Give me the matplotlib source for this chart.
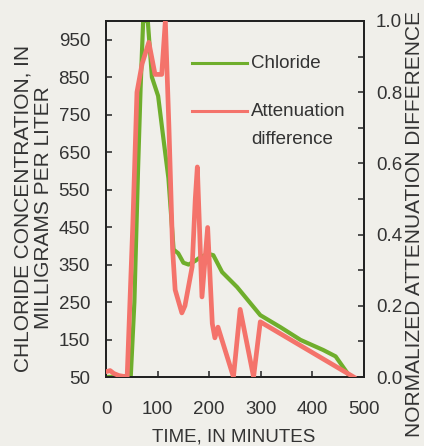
import numpy as np
import matplotlib.pyplot as plt
from matplotlib.ticker import MultipleLocator

plt.rcParams['font.family'] = ['Liberation Sans', 'DejaVu Sans']

# cloreto (mg/L) ao longo do tempo (min)
tempo_cloreto = [0, 48, 55, 62, 67, 72, 81, 89, 101, 110, 121, 131, 140, 150,
                 160, 173, 185, 200, 208, 225, 254, 299, 338, 377, 421, 445, 468, 473]
cloreto = [50, 52, 250, 600, 820, 1000, 1000, 850, 800, 700, 580, 390, 380, 355,
           350, 360, 372, 378, 375, 330, 290, 215, 183, 149, 122, 105, 60, 50]

# diferença de atenuação normalizada
tempo_atenuacao = [0, 8, 15, 25, 41, 52, 60, 70, 83, 95, 108, 115, 122, 129, 134,
                   147, 153, 167, 173, 177, 186, 197, 206, 211, 217, 247, 260,
                   286, 299, 480]
atenuacao = [0.015, 0.018, 0.01, 0.004, 0.0, 0.43, 0.80, 0.88, 0.94, 0.85, 0.85,
             1.0, 0.70, 0.36, 0.245, 0.18, 0.20, 0.31, 0.50, 0.59, 0.225, 0.42,
             0.15, 0.11, 0.14, 0.0, 0.19, 0.0, 0.155, 0.0]

verde = '#6fae2c'
vermelho = '#f4736b'
fundo = '#f0efea'
texto = '#333333'
fs = 13.5

fig = plt.figure(figsize=(4.24, 4.46), dpi=100, facecolor=fundo)
ax = fig.add_axes([106 / 424, 69 / 446, 258 / 424, 356 / 446])
ax.set_facecolor(fundo)
ax2 = ax.twinx()

ax.plot(tempo_cloreto, cloreto, color=verde, lw=3.0, solid_joinstyle='round', zorder=2)
ax2.plot(tempo_atenuacao, atenuacao, color=vermelho, lw=3.4, solid_joinstyle='round', zorder=3)

ax.set_xlim(0, 500)
ax.set_ylim(50, 1000)
ax2.set_ylim(0, 1.0)

ax.set_xticks(range(0, 501, 100))
ax.set_yticks(range(50, 951, 100))
ax2.yaxis.set_major_locator(MultipleLocator(0.2))
ax2.yaxis.set_minor_locator(MultipleLocator(0.1))
ax2.set_yticklabels([f'{v:.1f}' for v in ax2.get_yticks()])

ax.tick_params(axis='x', direction='in', length=4.5, width=1.2, pad=17.5,
               labelsize=fs, colors=texto)
ax.tick_params(axis='y', direction='in', length=4.5, width=1.2, pad=11.5,
               labelsize=fs, colors=texto)
ax2.tick_params(axis='y', which='both', direction='in', length=4.5, width=1.2,
                pad=8.6, labelsize=fs, colors=texto)
for a in (ax, ax2):
    for s in a.spines.values():
        s.set_linewidth(1.3)
        s.set_color('#222222')

# legenda desenhada à mão, como na figura original
ax.plot([0.333, 0.547], [0.882, 0.882], color=verde, lw=2.2, transform=ax.transAxes)
ax.plot([0.333, 0.547], [0.747, 0.747], color=vermelho, lw=2.2, transform=ax.transAxes)
ax.text(0.562, 0.882, 'Chloride', transform=ax.transAxes, fontsize=fs,
        color=texto, va='center', ha='left')
ax.text(0.562, 0.747, 'Attenuation', transform=ax.transAxes,
        fontsize=fs, color=texto, va='center', ha='left')
ax.text(0.562, 0.666, 'difference', transform=ax.transAxes,
        fontsize=fs, color=texto, va='center', ha='left')

fig.text(234 / 424, 1 - 437 / 446, 'TIME, IN MINUTES', fontsize=fs, color=texto,
         ha='center', va='center')
fig.text(33 / 424, 1 - 208 / 446, 'CHLORIDE CONCENTRATION, IN\nMILLIGRAMS PER LITER',
         fontsize=15, color=texto, rotation=90, ha='center', va='center',
         multialignment='center', linespacing=1.1)
fig.text(414 / 424, 1 - 224 / 446, 'NORMALIZED ATTENUATION DIFFERENCE',
         fontsize=15, color=texto, rotation=90, ha='center', va='center')

fig.savefig('out.png', dpi=100, facecolor=fundo)
plt.close(fig)
